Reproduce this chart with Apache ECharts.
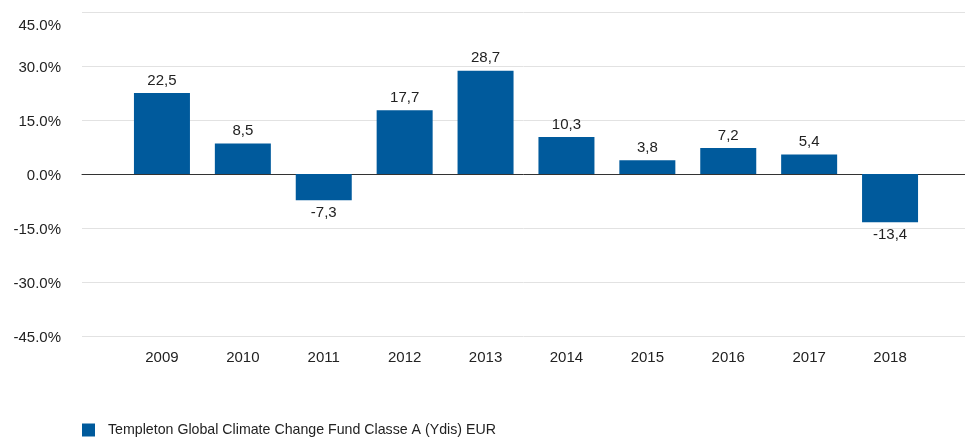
<!DOCTYPE html>
<html>
<head>
<meta charset="utf-8">
<script src="https://cdn.jsdelivr.net/npm/echarts@6/dist/echarts.min.js"></script>
<style>
html,body{margin:0;padding:0;background:#fff;}
#chart{width:965px;height:438px;}
</style>
</head>
<body>
<div id="chart"></div>
<script>
// categories and values
var years = ['2009','2010','2011','2012','2013','2014','2015','2016','2017','2018'];
var returns = [22.5, 8.5, -7.3, 17.7, 28.7, 10.3, 3.8, 7.2, 5.4, -13.4];
var seriesName = 'Templeton Global Climate Change Fund Classe A (Ydis) EUR';
var yMin = -45, yMax = 45, yStep = 15;

var chart = echarts.init(document.getElementById('chart'));
var font = 'Liberation Sans, Arial, sans-serif';

var option = {
    animation: false,
    textStyle: {fontFamily: font},
    legend: {
        left: 82,
        top: 423,
        padding: 0,
        icon: 'rect',
        itemWidth: 13,
        itemHeight: 13,
        textStyle: {color: '#222', fontSize: 14.2, fontFamily: font, padding: [1, 0, 0, 8]},
        data: [seriesName]
    },
    grid: [
        // full-width grid for gridlines / zero line
        {left: 82, right: 0, top: 12, bottom: 102},
        // bars
        {left: 121.5, right: 34.5, top: 12, bottom: 102}
    ],
    xAxis: [
        {
            gridIndex: 0,
            type: 'category',
            data: [''],
            axisLine: {onZero: true, lineStyle: {color: '#333', width: 1}},
            axisTick: {show: false},
            axisLabel: {show: false}
        },
        {
            gridIndex: 1,
            type: 'category',
            data: years,
            axisLine: {show: false, onZero: false},
            axisTick: {show: false},
            axisLabel: {color: '#222', fontSize: 15, margin: 14, fontFamily: font}
        }
    ],
    yAxis: [
        {
            gridIndex: 0,
            type: 'value',
            min: yMin,
            max: yMax,
            interval: yStep,
            axisLine: {show: false},
            axisTick: {show: false},
            axisLabel: {
                color: '#222', fontSize: 15, margin: 21, fontFamily: font,
                padding: [4, 0, 0, 0],
                formatter: function (v) {
                    var s = v.toFixed(1) + '%';
                    return v === yMax ? '{top|' + s + '}' : s;
                },
                rich: {
                    top: {color: '#222', fontSize: 15, fontFamily: font, padding: [24, 0, 0, 0]}
                }
            },
            splitLine: {lineStyle: {color: '#e2e2e2', width: 1}}
        },
        {
            gridIndex: 1,
            type: 'value',
            min: yMin,
            max: yMax,
            interval: yStep,
            show: false,
            splitLine: {show: false}
        }
    ],
    series: [
        {
            name: seriesName,
            type: 'bar',
            xAxisIndex: 1,
            yAxisIndex: 1,
            barWidth: 56,
            itemStyle: {color: '#005a9c'},
            label: {
                show: true,
                color: '#222',
                fontSize: 15,
                fontFamily: font,
                distance: 5,
                formatter: function (p) { return String(p.value).replace('.', ','); }
            },
            data: returns.map(function (v) {
                return {value: v, label: {position: v >= 0 ? 'top' : 'bottom'}};
            })
        }
    ]
};

chart.setOption(option);
</script>
</body>
</html>
